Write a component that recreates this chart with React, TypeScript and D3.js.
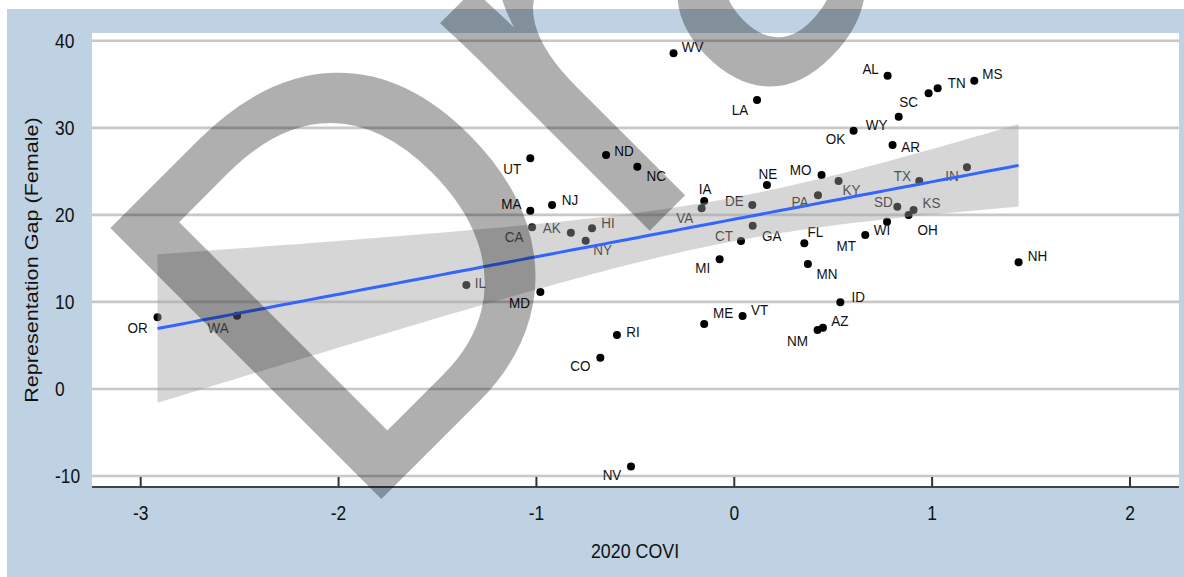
import React from "react";
import * as d3 from "d3";

// ---- data ----
const states = ["OR","WA","IL","MD","UT","ND","NC","MA","NJ","CA","AK","HI","NY","IA","VA","WV","LA","DE","GA","CT","MI","NE","MO","PA","KY","FL","MN","MT","WI","SD","KS","OH","TX","IN","AL","SC","TN","MS","WY","OK","AR","NH","ID","ME","VT","NM","AZ","RI","CO","NV"];
const covi = [-2.915,-2.513,-1.354,-0.980,-1.031,-0.648,-0.490,-1.031,-0.921,-1.022,-0.826,-0.719,-0.751,-0.152,-0.165,-0.307,0.115,0.091,0.093,0.034,-0.074,0.165,0.441,0.423,0.527,0.354,0.372,0.662,0.772,0.824,0.906,0.881,0.935,1.176,0.775,0.982,1.028,1.213,0.831,0.603,0.800,1.437,0.536,-0.152,0.042,0.421,0.448,-0.593,-0.677,-0.522];
const gap = [8.24,8.42,11.95,11.14,26.50,26.88,25.53,20.48,21.13,18.57,17.95,18.45,17.03,21.59,20.76,38.56,33.2,21.13,18.76,17.0,14.9,23.43,24.58,22.25,23.89,16.73,14.36,17.69,19.22,20.94,20.56,19.99,23.89,25.46,35.99,33.96,34.54,35.42,31.28,29.67,28.03,14.55,9.96,7.47,8.38,6.78,7.04,6.20,3.60,-8.92];
const xTicks = [-3,-2,-1,0,1,2];
const yTicks = [-10,0,10,20,30,40];
const xTitle = "2020 COVI";
const yTitle = "Representation Gap (Female)";
const watermark = "Draft";

// label offsets (text centre relative to point), px
const labelOffset: Record<string, [number, number]> = {
  OR:[-20,10], WA:[-19,12], IL:[14,-3], MD:[-21,10], UT:[-18,10], ND:[18,-5], NC:[19,9],
  MA:[-19,-7], NJ:[18,-6], CA:[-18,9], AK:[-19,-5], HI:[16,-6], NY:[17,9], IA:[1,-13],
  VA:[-17,9], WV:[19,-7], LA:[-17,9], DE:[-18,-5], GA:[19,10], CT:[-17,-6], MI:[-17,8],
  NE:[1,-12], MO:[-21,-6], PA:[-18,6], KY:[13,8], FL:[11,-12], MN:[19,9], MT:[-19,10],
  WI:[-5,8], SD:[-14,-5], KS:[18,-8], OH:[19,14], TX:[-17,-6], IN:[-15,8], AL:[-17,-7],
  SC:[-20,8], TN:[19,-6], MS:[18,-7], WY:[-22,8], OK:[-18,8], AR:[18,1], NH:[19,-7],
  ID:[18,-6], ME:[19,-12], VT:[17,-7], NM:[-20,10], AZ:[17,-7], RI:[16,-4], CO:[-20,8], NV:[-19,8],
};

const W = 1184, H = 577;
const SQ = 0.87; // horizontal condensation of text
const FONT = "'Liberation Sans', Arial, sans-serif";

export default function App() {
  const x = d3.scaleLinear().domain([-3, 2]).range([140.7, 1130]);
  const y = d3.scaleLinear().domain([-10, 40]).range([476, 40.8]);
  const panel = { l: 92, r: 1179, t: 33, b: 487 };

  // OLS fit + 95% CI
  const n = covi.length;
  const mx = d3.mean(covi)!;
  const my = d3.mean(gap)!;
  let sxx = 0, sxy = 0;
  for (let i = 0; i < n; i++) { sxx += (covi[i]-mx)**2; sxy += (covi[i]-mx)*(gap[i]-my); }
  const b = sxy / sxx, a = my - b * mx;
  let sse = 0;
  for (let i = 0; i < n; i++) sse += (gap[i] - (a + b*covi[i]))**2;
  const s = Math.sqrt(sse / (n - 2));
  const tcrit = 2.0106;
  const [xmin, xmax] = d3.extent(covi) as [number, number];
  const grid = d3.range(80).map(i => xmin + (xmax - xmin) * i / 79);
  const fitData = grid.map(v => {
    const f = a + b * v;
    const se = s * Math.sqrt(1/n + (v-mx)**2/sxx);
    return { v, f, lo: f - tcrit*se, hi: f + tcrit*se };
  });
  const area = d3.area<any>().x(d => x(d.v)).y0(d => y(d.lo)).y1(d => y(d.hi));
  const line = d3.line<any>().x(d => x(d.v)).y(d => y(d.f));

  const ht = (px: number, py: number, extra = "") => `translate(${px},${py}) scale(${SQ},1)${extra}`;

  // watermark origin
  const wmX = 350.3, wmY = 528;

  return (
    <svg width={W} height={H} style={{ position: "absolute", left: 0, top: 0 }} fontFamily={FONT}>
      <rect x={0} y={0} width={W} height={H} fill="#ffffff" />
      <rect x={7} y={9} width={W - 7} height={H - 9} fill="#bed2e3" />
      <rect x={panel.l} y={panel.t} width={panel.r - panel.l} height={panel.b - panel.t} fill="#ffffff" />
      {yTicks.map(t => (
        <line key={t} x1={panel.l} x2={panel.r} y1={y(t)} y2={y(t)} stroke="#c8c8c8" strokeWidth={2.6} />
      ))}
      {states.map((st, i) => {
        const px = x(covi[i]), py = y(gap[i]);
        const [dx, dy] = labelOffset[st];
        return (
          <g key={st}>
            <circle cx={px} cy={py} r={4} fill="#000" />
            <text transform={ht(px + dx, py + dy + 5.6)} textAnchor="middle" fontSize={15.5} fill="#111">{st}</text>
          </g>
        );
      })}
      <path d={area(fitData)!} fill="#a0a0a0" opacity={0.43} />
      <path d={line(fitData)!} fill="none" stroke="#3366ff" strokeWidth={3} />
      <line x1={panel.l} x2={panel.r} y1={panel.b} y2={panel.b} stroke="#444" strokeWidth={2} />
      {xTicks.map(t => (
        <g key={t}>
          <line x1={x(t)} x2={x(t)} y1={panel.b - 10} y2={panel.b} stroke="#333" strokeWidth={2} />
          <text transform={ht(x(t), 520)} textAnchor="middle" fontSize={20} fill="#111">{t}</text>
        </g>
      ))}
      {yTicks.map(t => (
        <text key={t} transform={ht(55, y(t) + 7.2)} textAnchor="start" fontSize={20} fill="#111">{t}</text>
      ))}
      <text transform={ht(635, 557.5)} textAnchor="middle" fontSize={20.5} fill="#111">{xTitle}</text>
      <text transform={ht(38, 260, " rotate(-90)")} textAnchor="middle" fontSize={21.6} fill="#111">{yTitle}</text>
      <g opacity={0.31}>
        <text transform={`translate(${wmX},${wmY}) rotate(-45) scale(1,1.033)`} fontSize={535} fill="#000" stroke="#000" strokeWidth={3}>{watermark}</text>
      </g>
    </svg>
  );
}
